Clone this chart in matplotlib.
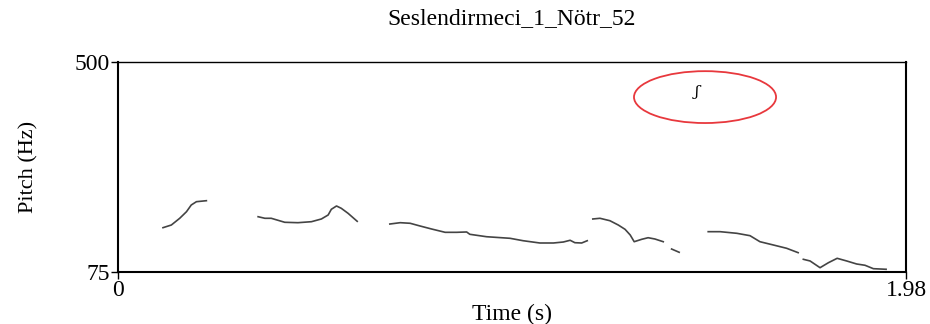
import matplotlib.pyplot as plt
from matplotlib.patches import Ellipse

plt.rcParams['font.family'] = ['Liberation Serif', 'DejaVu Serif']

title = "Seslendirmeci_1_Nötr_52"
t_min, t_max = 0.0, 1.98
f_min, f_max = 75, 500

# pitch contour pieces (time in s, pitch in Hz)
t1 = [0.113, 0.134, 0.155, 0.172, 0.184, 0.197, 0.222]
f1 = [164.7, 170.1, 183.7, 197.0, 210.6, 217.3, 219.3]

t2 = [0.352, 0.369, 0.385, 0.419, 0.452, 0.486, 0.511, 0.528, 0.536, 0.549, 0.561, 0.578, 0.601]
f2 = [186.9, 183.7, 183.7, 175.6, 174.8, 176.8, 182.3, 190.4, 201.9, 208.6, 203.9, 193.8, 177.6]

t3 = [0.683, 0.709, 0.734, 0.759, 0.788, 0.822, 0.851, 0.876, 0.884, 0.926, 0.985,
      1.018, 1.060, 1.094, 1.119, 1.136, 1.148, 1.165, 1.179]
f3 = [172.1, 174.8, 173.6, 168.1, 162.0, 155.3, 155.3, 156.0, 151.3, 146.4, 143.2,
      138.3, 133.7, 133.7, 135.7, 139.2, 134.3, 133.7, 138.3]

t4 = [1.193, 1.211, 1.236, 1.257, 1.274, 1.287, 1.297, 1.316, 1.332, 1.349, 1.370]
f4 = [182.3, 183.7, 178.8, 170.1, 161.4, 149.9, 136.3, 141.2, 144.4, 141.8, 136.3]

t5 = [1.391, 1.410]
f5 = [121.5, 114.9]

t6 = [1.483, 1.513, 1.555, 1.588, 1.613, 1.647, 1.680, 1.709]
f6 = [156.6, 156.6, 153.3, 148.5, 136.3, 129.6, 123.0, 114.1]

t7 = [1.722, 1.739, 1.764, 1.785, 1.807, 1.831, 1.856, 1.877, 1.898, 1.930]
f7 = [100.7, 97.3, 83.7, 93.8, 102.7, 97.3, 91.2, 88.6, 81.7, 80.5]

pieces = [(t1, f1), (t2, f2), (t3, f3), (t4, f4), (t5, f5), (t6, f6), (t7, f7)]

fig = plt.figure(figsize=(9.3, 3.24), dpi=100)
ax = fig.add_axes([0.1269, 0.1605, 0.8473, 0.6481])

for t, f in pieces:
    ax.plot(t, f, color='#444444', lw=1.2)

ax.add_patch(Ellipse((1.475, 429), 0.357, 105, fill=False, edgecolor='#e8383d', lw=1.3))
ax.text(1.455, 439, 'ʃ', fontsize=11, style='italic', ha='center', va='center',
        family=['DejaVu Serif'])

ax.set_xlim(t_min, t_max)
ax.set_ylim(f_min, f_max)
ax.set_xticks([t_min, t_max])
ax.set_xticklabels(['0', '1.98'])
ax.set_yticks([f_min, f_max])
ax.set_yticklabels(['75', '500'])
ax.tick_params(direction='out', length=5, width=1.0, labelsize=17, pad=1)
for s in ax.spines.values():
    s.set_linewidth(1.5)
ax.spines['top'].set_linewidth(1.0)

ax.set_xlabel('Time (s)', fontsize=17, labelpad=2)
ax.set_ylabel('Pitch (Hz)', fontsize=16, labelpad=26)
ax.set_title(title, fontsize=17, pad=27)

fig.savefig('out.png', dpi=100)
